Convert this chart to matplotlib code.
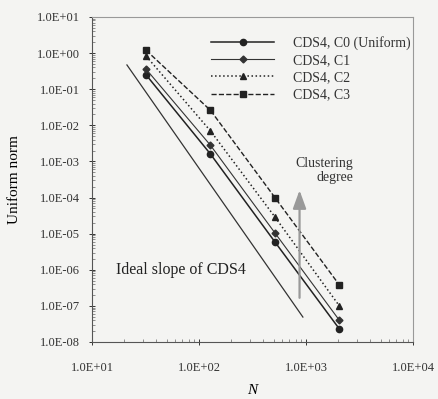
import numpy as np
import matplotlib.pyplot as plt
from matplotlib.ticker import FuncFormatter, LogLocator

plt.rcParams['font.family'] = ['Liberation Serif', 'DejaVu Serif']

# data
N = [32, 128, 512, 2048]
c0 = [0.25, 1.6e-3, 5.9e-6, 2.3e-8]
c1 = [0.36, 2.8e-3, 1.05e-5, 4.0e-8]
c2 = [0.83, 7.0e-3, 2.9e-5, 1.0e-7]
c3 = [1.2, 2.6e-2, 1.0e-4, 3.8e-7]
labels = ['CDS4, C0 (Uniform)', 'CDS4, C1', 'CDS4, C2', 'CDS4, C3']

ideal_N = [21.2, 935]
ideal_err = [0.47, 4.9e-8]

arrow_N = 870
arrow_y = [1.4e-7, 1.9e-4]

bg = '#f4f4f2'
fig = plt.figure(figsize=(4.39, 3.99), dpi=100, facecolor=bg)
ax = fig.add_axes([0.2096, 0.1429, 0.7312, 0.8145], facecolor=bg)

ax.plot(N, c0, '-', color='#222222', lw=1.1, marker='o', ms=4.5, label=labels[0])
ax.plot(N, c1, '-', color='#333333', lw=0.8, marker='D', ms=3.5, label=labels[1])
ax.plot(N, c2, ':', color='#222222', lw=1.1, marker='^', ms=4.5, label=labels[2])
ax.plot(N, c3, '--', color='#222222', lw=1.0, marker='s', ms=4.5, label=labels[3])
ax.plot(ideal_N, ideal_err, '-', color='#333333', lw=0.9)

ax.annotate('', xy=(arrow_N, arrow_y[1]), xytext=(arrow_N, arrow_y[0]),
            arrowprops=dict(arrowstyle='-|>,head_width=0.4,head_length=1.1',
                            color='#999999', lw=1.6))
ax.text(2760, 2.3e-4, 'Clustering\ndegree', ha='right', va='bottom',
        fontsize=10, color='#333333', linespacing=1.1)
ax.text(16.8, 1.0e-6, 'Ideal slope of CDS4', fontsize=11.5, color='#222222', va='center')

ax.set_xscale('log')
ax.set_yscale('log')
ax.set_xlim(10, 1e4)
ax.set_ylim(1e-8, 10)

fmt = FuncFormatter(lambda v, p: '%.1E' % v)
ax.xaxis.set_major_formatter(fmt)
ax.yaxis.set_major_formatter(fmt)
ax.xaxis.set_minor_locator(LogLocator(base=10, subs=np.arange(2, 10)))
ax.yaxis.set_minor_locator(LogLocator(base=10, subs=np.arange(2, 10), numticks=20))
ax.yaxis.set_major_locator(LogLocator(base=10, numticks=20))
ax.tick_params(which='major', direction='inout', length=5, width=0.7, labelsize=9,
               colors='#333333', top=False, right=False)
ax.tick_params(which='minor', direction='in', length=2.5, width=0.5, colors='#666666',
               top=False, right=False)
ax.tick_params(axis='x', pad=12)
ax.tick_params(axis='y', pad=6)

for s in ['top', 'right']:
    ax.spines[s].set_color('#999999')
    ax.spines[s].set_linewidth(0.8)
for s in ['left', 'bottom']:
    ax.spines[s].set_color('#555555')
    ax.spines[s].set_linewidth(0.8)

ax.set_xlabel('N', fontstyle='italic', fontsize=11, labelpad=7)
ax.set_ylabel('Uniform norm', fontsize=11, labelpad=12)

leg = ax.legend(loc='upper right', fontsize=10, frameon=False, handlelength=4.6,
                handletextpad=1.3, labelspacing=0.3, bbox_to_anchor=(1.03, 0.98))
for t in leg.get_texts():
    t.set_color('#333333')

fig.savefig('out.png', dpi=100, facecolor=bg)
